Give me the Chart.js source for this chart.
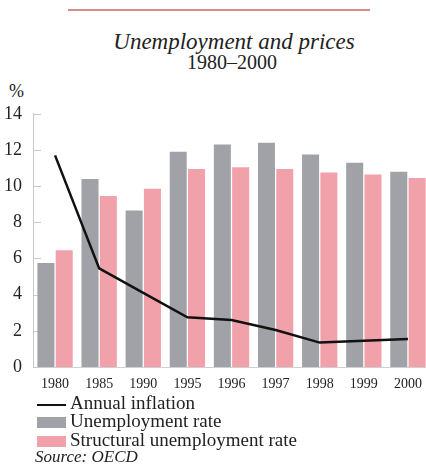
<!DOCTYPE html>
<html lang="en">
<head>
<meta charset="UTF-8">
<title>Unemployment and prices</title>
<script src="https://cdn.jsdelivr.net/npm/chart.js"></script>
<style>
    body {
        margin: 0;
        width: 426px;
        height: 469px;
        overflow: hidden;
        background: #fff;
        font-family: 'Liberation Serif', serif;
        color: #222;
        position: relative;
    }
    .rule { position: absolute; left: 68px; top: 9px; width: 302px; height: 2px; background: #d98a8c; }
    .title { position: absolute; left: 0; width: 468px; top: 29px; text-align: center; font-style: italic; font-size: 23px; line-height: 26px; }
    .sub { position: absolute; left: 0; width: 464px; top: 51px; text-align: center; font-size: 20px; line-height: 22px; }
    .unit { position: absolute; left: 9px; top: 82px; font-size: 18px; line-height: 18px; }
    #wrap { position: absolute; left: 0; top: 100px; width: 430px; height: 300px; }
    .leg { position: absolute; left: 37px; font-size: 19px; line-height: 18px; white-space: nowrap; }
    .leg span { display: inline-block; vertical-align: middle; margin-right: 4px; }
    .src { position: absolute; left: 35px; top: 448px; font-size: 17px; line-height: 18px; font-style: italic; }
</style>
</head>
<body>
<div class="rule"></div>
<div class="title">Unemployment and prices</div>
<div class="sub">1980–2000</div>
<div class="unit">%</div>
<div id="wrap"><canvas id="chart" width="430" height="300"></canvas></div>
<div class="leg" style="top:394px"><span style="width:29px;height:2px;background:#111"></span>Annual inflation</div>
<div class="leg" style="top:412px"><span style="width:29px;height:11px;background:#a1a2a7"></span>Unemployment rate</div>
<div class="leg" style="top:431px"><span style="width:29px;height:11px;background:#f1a1a9"></span>Structural unemployment rate</div>
<div class="src">Source: OECD</div>
<script>
    const years = ['1980', '1985', '1990', '1995', '1996', '1997', '1998', '1999', '2000'];
    const unemployment = [5.75, 10.4, 8.65, 11.9, 12.3, 12.4, 11.75, 11.3, 10.8];
    const structural = [6.45, 9.45, 9.85, 10.95, 11.05, 10.95, 10.75, 10.65, 10.45];
    const inflation = [11.7, 5.45, 4.1, 2.75, 2.6, 2.05, 1.35, 1.45, 1.55];
    const yTicks = [0, 2, 4, 6, 8, 10, 12, 14];

    const serif = "'Liberation Serif', 'Times New Roman', serif";

    // short ticks pointing into the plot, like the original
    const innerTicks = {
        id: 'innerTicks',
        beforeDatasetsDraw(chart) {
            const ctx = chart.ctx;
            const y = chart.scales.y;
            ctx.save();
            ctx.strokeStyle = '#c8c8c8';
            ctx.lineWidth = 1;
            yTicks.forEach(v => {
                const py = Math.round(y.getPixelForValue(v)) + 0.5;
                ctx.beginPath();
                ctx.moveTo(y.right, py);
                ctx.lineTo(y.right + 8, py);
                ctx.stroke();
            });
            ctx.restore();
        }
    };

    const ctx = document.getElementById('chart').getContext('2d');
    new Chart(ctx, {
        type: 'bar',
        data: {
            labels: years,
            datasets: [
                {
                    type: 'line',
                    label: 'Annual inflation',
                    data: inflation,
                    borderColor: '#111',
                    borderWidth: 2.5,
                    pointRadius: 0,
                    tension: 0,
                    order: 0
                },
                {
                    label: 'Unemployment rate',
                    data: unemployment,
                    backgroundColor: '#a1a2a7',
                    order: 1
                },
                {
                    label: 'Structural unemployment rate',
                    data: structural,
                    backgroundColor: '#f1a1a9',
                    order: 1
                }
            ]
        },
        options: {
            responsive: false,
            animation: false,
            categoryPercentage: 0.83,
            barPercentage: 0.93,
            layout: { padding: { top: 13, right: 0, left: 0, bottom: 0 } },
            plugins: { legend: { display: false }, tooltip: { enabled: false } },
            scales: {
                x: {
                    grid: { display: false },
                    border: { display: true, color: '#d0d0d0' },
                    ticks: { color: '#222', padding: 1, font: { family: serif, size: 14 }, maxRotation: 0, autoSkip: false },
                    afterFit: s => { s.height = 33; }
                },
                y: {
                    min: 0,
                    max: 14,
                    afterBuildTicks: s => { s.ticks = yTicks.map(v => ({ value: v })); },
                    grid: { display: false },
                    border: { display: true, color: '#c8c8c8' },
                    ticks: { color: '#222', padding: 3, font: { family: serif, size: 18 } },
                    afterFit: s => { s.width = 33; }
                }
            }
        },
        plugins: [innerTicks]
    });
</script>
</body>
</html>
